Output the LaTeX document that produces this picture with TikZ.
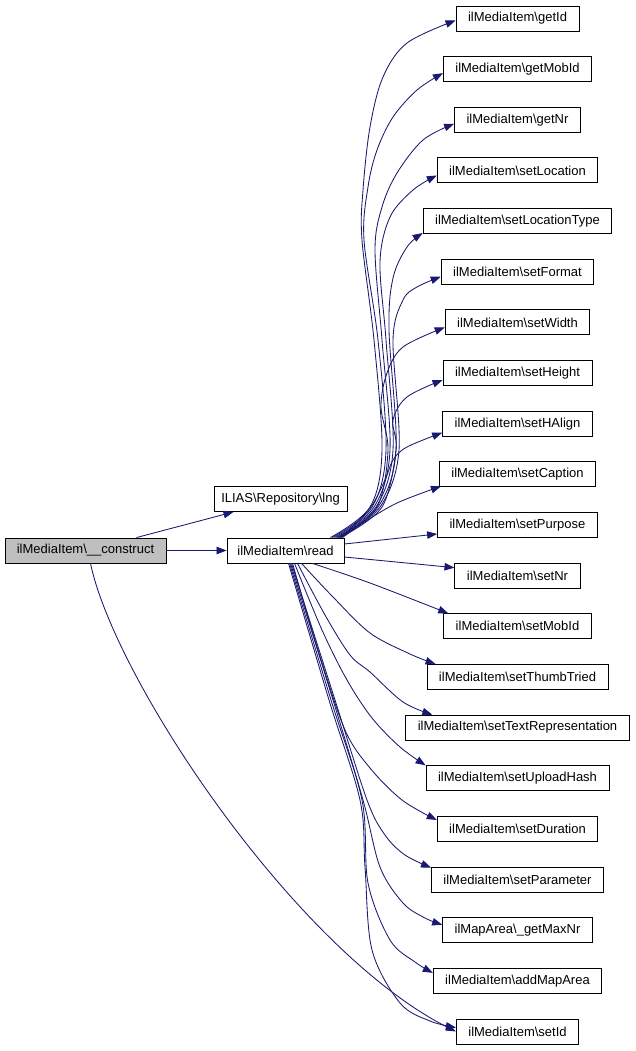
\documentclass[tikz,border=0pt]{standalone}
\usepackage{fontspec}
\setmainfont{Liberation Sans}
\usetikzlibrary{arrows.meta}
\definecolor{edgeblue}{RGB}{25,25,112}
\definecolor{boxgray}{RGB}{191,191,191}
\begin{document}
\begin{tikzpicture}[x=1pt,y=-1pt,
  box/.style={draw=black, line width=0.9pt, rectangle, minimum height=25pt,
    inner xsep=12pt, inner ysep=0pt, font=\fontsize{13}{15}\selectfont, anchor=center},
  fixbox/.style={box, inner xsep=0pt},
  edge/.style={draw=edgeblue, line width=0.85pt, -{Triangle[length=10pt,width=7.5pt]}}]
\useasboundingbox[fill=white] (0,0) rectangle (636,1051);

% left nodes
\node[fixbox, fill=boxgray, minimum width=161pt] (construct) at (85.5,550.5) {ilMediaItem\textbackslash\_\_construct};
\node[fixbox, minimum width=133pt] (lng) at (280.5,499) {ILIAS\textbackslash Repository\textbackslash lng};
\node[fixbox, minimum width=117pt] (read) at (285.5,550.5) {ilMediaItem\textbackslash read};

% right column
\node[box] (getId)      at (517.5,18.5)   {ilMediaItem\textbackslash getId};
\node[box] (getMobId)   at (517.5,69.15)  {ilMediaItem\textbackslash getMobId};
\node[box] (getNr)      at (517.5,119.8)  {ilMediaItem\textbackslash getNr};
\node[box] (setLoc)     at (517.5,170.45) {ilMediaItem\textbackslash setLocation};
\node[box] (setLocType) at (517.5,221.1)  {ilMediaItem\textbackslash setLocationType};
\node[box] (setFormat)  at (517.5,271.75) {ilMediaItem\textbackslash setFormat};
\node[box] (setWidth)   at (517.5,322.4)  {ilMediaItem\textbackslash setWidth};
\node[box] (setHeight)  at (517.5,373.05) {ilMediaItem\textbackslash setHeight};
\node[box] (setHAlign)  at (517.5,423.7)  {ilMediaItem\textbackslash setHAlign};
\node[box] (setCaption) at (517.5,474.35) {ilMediaItem\textbackslash setCaption};
\node[box] (setPurpose) at (517.5,525.0)  {ilMediaItem\textbackslash setPurpose};
\node[box] (setNr)      at (517.5,575.65) {ilMediaItem\textbackslash setNr};
\node[box] (setMobId)   at (517.5,626.3)  {ilMediaItem\textbackslash setMobId};
\node[box] (setThumb)   at (517.5,676.95) {ilMediaItem\textbackslash setThumbTried};
\node[box] (setTextRep) at (517.5,727.6)  {ilMediaItem\textbackslash setTextRepresentation};
\node[box] (setUpload)  at (517.5,778.25) {ilMediaItem\textbackslash setUploadHash};
\node[box] (setDur)     at (517.5,828.9)  {ilMediaItem\textbackslash setDuration};
\node[box] (setParam)   at (517.5,879.55) {ilMediaItem\textbackslash setParameter};
\node[box] (getMaxNr)   at (517.5,930.2)  {ilMapArea\textbackslash\_getMaxNr};
\node[box] (addMap)     at (517.5,980.85) {ilMediaItem\textbackslash addMapArea};
\node[box] (setId)      at (517.5,1031.5) {ilMediaItem\textbackslash setId};

% edges from construct
\draw[edge] ([xshift=51pt]construct.north) -- ([xshift=-47pt]lng.south);
\draw[edge] (construct.east) -- (read.west);
\draw[edge] ([xshift=5pt]construct.south) .. controls (115,680) and (295,950) .. (setId.west);

% upward edges from read
\draw[edge] plot[smooth,tension=0.55] coordinates {([xshift=-14pt]read.north east) (370,507) (382,450) (374,340) (362,240) (363,190) (370,127) (383,77) (407,43) ([yshift=-2pt]getId.west)};
\draw[edge] plot[smooth,tension=0.55] coordinates {([xshift=-12pt]read.north east) (372,507) (386,450) (378,340) (364,240) (368,187) (377,150) (393,117) (417,90) ([yshift=-4pt]getMobId.west)};
\draw[edge] plot[smooth,tension=0.55] coordinates {([xshift=-10pt]read.north east) (374,507) (390,450) (382,340) (375,250) (382,207) (397,173) (423,140) ([yshift=-4pt]getNr.west)};
\draw[edge] plot[smooth,tension=0.55] coordinates {([xshift=-8pt]read.north east) (376,507) (393,450) (386,340) (380,262) (390,217) (413,190) ([yshift=-5pt]setLoc.west)};
\draw[edge] plot[smooth,tension=0.55] coordinates {([xshift=-7pt]read.north east) (378,507) (396,450) (389,330) (393,278) (407,247) ([yshift=1pt]setLocType.south west)};
\draw[edge] plot[smooth,tension=0.55] coordinates {([xshift=-6pt]read.north east) (380,507) (399,450) (393,340) (403,300) (417,287) ([yshift=-5pt]setFormat.west)};
\draw[edge] plot[smooth,tension=0.55] coordinates {([xshift=-5pt]read.north east) (377,507) (388,450) (381,407) (387,373) (403,347) ([yshift=-5pt]setWidth.west)};
\draw[edge] plot[smooth,tension=0.55] coordinates {([xshift=-4pt]read.north east) (382,507) (396,450) (393,420) (407,397) ([yshift=-7pt]setHeight.west)};
\draw[edge] plot[smooth,tension=0.55] coordinates {([xshift=-3pt]read.north east) (370,508) (385,480) (393,460) (407,447) ([yshift=-9pt]setHAlign.west)};
\draw[edge] plot[smooth,tension=0.55] coordinates {([xshift=-2pt]read.north east) (363,523) (397,503) ([xshift=2pt,yshift=1pt]setCaption.south west)};
\draw[edge] ([yshift=6.5pt]read.east) -- ([yshift=-9pt]setPurpose.west);
\draw[edge] ([yshift=-6.5pt]read.east) -- ([yshift=8pt]setNr.west);

% downward edges from read
\draw[edge] plot[smooth,tension=0.55] coordinates {([xshift=86pt]read.south west) (370,583) ([xshift=5pt]setMobId.north west)};
\draw[edge] plot[smooth,tension=0.55] coordinates {([xshift=75pt]read.south west) (333,597) (370,633) (410,654) ([xshift=9pt]setThumb.north west)};
\draw[edge] plot[smooth,tension=0.55] coordinates {([xshift=71pt]read.south west) (325,615) (350,655) (370,672) (403,702) ([xshift=27pt]setTextRep.north west)};
\draw[edge] plot[smooth,tension=0.55] coordinates {([xshift=68pt]read.south west) (322,630) (347,680) (372,718) (400,747) (setUpload.north west)};
\draw[edge] plot[smooth,tension=0.55] coordinates {([xshift=66pt]read.south west) (318,650) (345,730) (370,768) (402,800) ([yshift=-4pt]setDur.north west)};
\draw[edge] plot[smooth,tension=0.55] coordinates {([xshift=65pt]read.south west) (335,700) (367,800) (385,835) (405,855) ([yshift=-1pt]setParam.north west)};
\draw[edge] plot[smooth,tension=0.55] coordinates {([xshift=64pt]read.south west) (333,700) (363,800) (380,867) (403,903) (425,918) ([yshift=5.5pt]getMaxNr.west)};
\draw[edge] plot[smooth,tension=0.55] coordinates {([xshift=63pt]read.south west) (331,700) (362,800) (368,883) (390,940) (415,962) ([yshift=8pt]addMap.west)};
\draw[edge] plot[smooth,tension=0.55] coordinates {([xshift=62pt]read.south west) (329,700) (360,800) (365,867) (372,950) (400,1003) (430,1021) ([yshift=4pt]setId.west)};
\end{tikzpicture}
\end{document}
